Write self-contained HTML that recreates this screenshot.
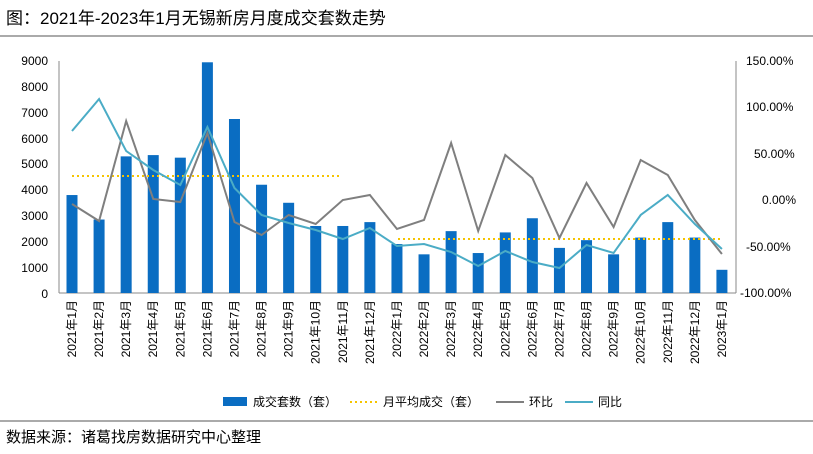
<!DOCTYPE html>
<html><head><meta charset="utf-8"><style>
body{margin:0;background:#fff;}
svg{font-family:"Liberation Sans","Noto Sans CJK SC",sans-serif;}
</style></head><body>
<svg width="813" height="449" xmlns="http://www.w3.org/2000/svg">
<text x="6" y="24" font-size="17" fill="#000">图：2021年-2023年1月无锡新房月度成交套数走势</text>
<line x1="0" y1="36" x2="813" y2="36" stroke="#555" stroke-width="1"/>
<line x1="0" y1="421" x2="813" y2="421" stroke="#555" stroke-width="1"/>
<text x="6" y="442" font-size="15" fill="#000">数据来源：诸葛找房数据研究中心整理</text>
<g font-size="12" fill="#000" text-anchor="end">
<text x="48" y="65">9000</text><text x="48" y="91">8000</text><text x="48" y="117">7000</text>
<text x="48" y="143">6000</text><text x="48" y="168">5000</text><text x="48" y="194">4000</text>
<text x="48" y="220">3000</text><text x="48" y="246">2000</text><text x="48" y="272">1000</text>
<text x="48" y="298">0</text>
</g>
<g font-size="12" fill="#000" text-anchor="start">
<text x="746" y="65">150.00%</text><text x="746" y="111">100.00%</text><text x="754" y="158">50.00%</text>
<text x="762" y="204">0.00%</text><text x="746" y="251">-50.00%</text><text x="740" y="297">-100.00%</text>
</g>
<line x1="59" y1="61" x2="59" y2="293" stroke="#888"/>
<line x1="736" y1="61" x2="736" y2="293" stroke="#888"/>
<line x1="59" y1="293" x2="736" y2="293" stroke="#888"/>
<g id="bars" fill="#0a6dc2"></g>
<polyline id="avg1" fill="none" stroke="#f5c400" stroke-width="2" stroke-dasharray="2,3" points="72,176 342,176"/>
<polyline id="avg2" fill="none" stroke="#f5c400" stroke-width="2" stroke-dasharray="2,3" points="398,239 722,239"/>
<polyline id="hb" fill="none" stroke="#7f7f7f" stroke-width="2"/>
<polyline id="tb" fill="none" stroke="#4bacc6" stroke-width="2"/>
<g id="xl" font-size="12" fill="#000"></g>
<g font-size="12" fill="#000">
<rect x="223" y="397" width="24" height="9" fill="#0a6dc2"/><text x="253" y="406">成交套数（套）</text>
<line x1="350" y1="402" x2="378" y2="402" stroke="#f5c400" stroke-width="2" stroke-dasharray="2,3"/><text x="383" y="406">月平均成交（套）</text>
<line x1="496" y1="402" x2="524" y2="402" stroke="#7f7f7f" stroke-width="2"/><text x="529" y="406">环比</text>
<line x1="565" y1="402" x2="593" y2="402" stroke="#4bacc6" stroke-width="2"/><text x="598" y="406">同比</text>
</g>
</svg>
<script>
var v=[3800,2850,5300,5350,5250,8950,6750,4200,3500,2600,2600,2750,1900,1500,2400,1550,2350,2900,1750,2050,1500,2150,2750,2150,900];
var h=[204,221,121,199,202,133,222,235,215,224,200,195,229,220,143,231,155,178,238,183,227,160,175,220,254];
var t=[131,99,151,170,185,127,188,215,223,230,239,228,246,244,252,266,251,262,268,245,253,215,195,224,249];
var ns="http://www.w3.org/2000/svg",b=document.getElementById('bars'),xl=document.getElementById('xl');
var hp=[],tp=[];
for(var i=0;i<25;i++){var x=72+i*27.08;var hh=v[i]*232/9000;
var r=document.createElementNS(ns,'rect');r.setAttribute('x',x-5.5);r.setAttribute('y',293-hh);r.setAttribute('width',11);r.setAttribute('height',hh);b.appendChild(r);
hp.push(x+','+h[i]);tp.push(x+','+t[i]);
var y=2021,m=i+1;if(i>=12&&i<24){y=2022;m=i-11}if(i==24){y=2023;m=1}
var tx=document.createElementNS(ns,'text');tx.setAttribute('transform','translate('+(x+4)+',300) rotate(-90)');tx.setAttribute('text-anchor','end');tx.textContent=y+'年'+m+'月';xl.appendChild(tx);}
document.getElementById('hb').setAttribute('points',hp.join(' '));
document.getElementById('tb').setAttribute('points',tp.join(' '));
</script>
</body></html>
